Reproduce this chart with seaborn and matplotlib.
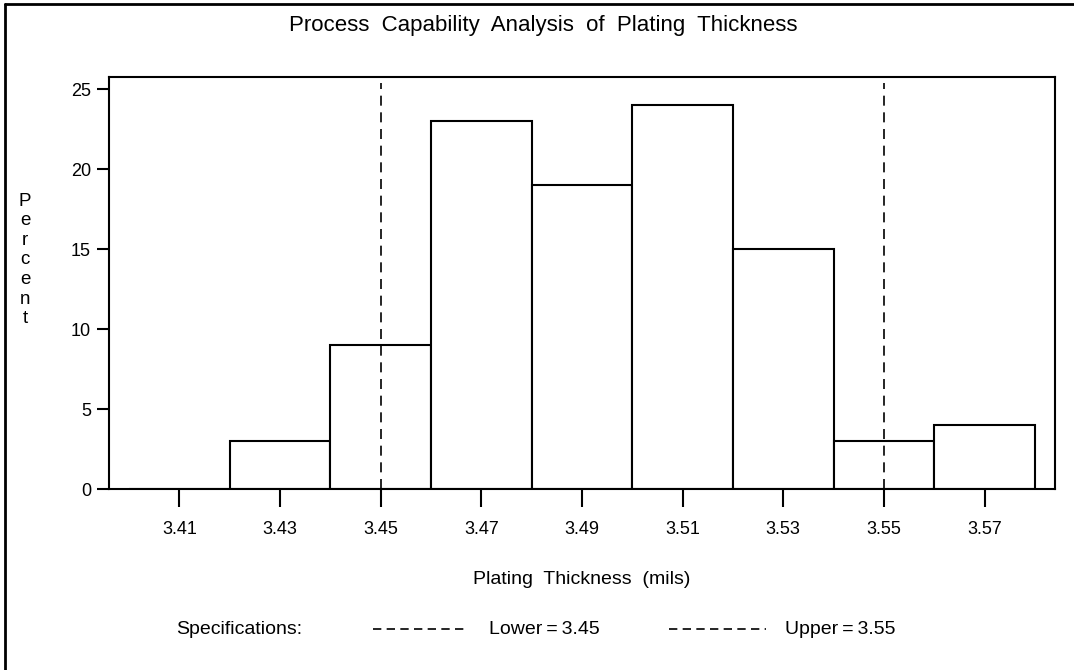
import numpy as np
import pandas as pd
import matplotlib
matplotlib.use("Agg")
import matplotlib.pyplot as plt
from matplotlib.lines import Line2D
import seaborn as sns

# ---- data ----
bin_centers = [3.41, 3.43, 3.45, 3.47, 3.49, 3.51, 3.53, 3.55, 3.57]
percents = [0, 3, 9, 23, 19, 24, 15, 3, 4]
bin_edges = [3.40, 3.42, 3.44, 3.46, 3.48, 3.50, 3.52, 3.54, 3.56, 3.58]
spec_lower = 3.45
spec_upper = 3.55
x_ticks = [3.41, 3.43, 3.45, 3.47, 3.49, 3.51, 3.53, 3.55, 3.57]
x_tick_labels = ["3.41", "3.43", "3.45", "3.47", "3.49", "3.51", "3.53", "3.55", "3.57"]
y_ticks = [0, 5, 10, 15, 20, 25]

sns.set_style("white")
plt.rcParams['font.family'] = ['Liberation Sans', 'DejaVu Sans']
plt.rcParams['text.color'] = 'black'

df = pd.DataFrame({"thickness": bin_centers, "pct": percents})

W, H = 1074, 670
fig = plt.figure(figsize=(W / 100, H / 100), dpi=100)
L, R, T, B = 109, 1055, 77, 489
ax = fig.add_axes([L / W, 1 - B / H, (R - L) / W, (B - T) / H])

sns.histplot(data=df, x="thickness", weights="pct", bins=bin_edges,
             stat="count", color="white", edgecolor="black", linewidth=1.5,
             alpha=1, ax=ax)

ax.set_xlim(3.396, 3.584)
ax.set_ylim(0, 25.75)
for s in [spec_lower, spec_upper]:
    ax.axvline(s, ymin=0, ymax=(25.75 - 0.4) / 25.75, color="black",
               lw=1.2, linestyle=(0, (6, 4)))

ax.set_xticks(x_ticks)
ax.set_xticklabels(x_tick_labels)
ax.set_yticks(y_ticks)
ax.tick_params(axis="x", direction="out", length=13, width=1.5, pad=10,
               labelsize=13, colors="black", bottom=True)
ax.tick_params(axis="y", direction="out", length=9, width=1.5, pad=4,
               labelsize=13, colors="black", left=True)
for sp in ax.spines.values():
    sp.set_visible(True)
    sp.set_color("black")
    sp.set_linewidth(1.5)
ax.set_xlabel("")
ax.set_ylabel("")

fs = 14
# x label
fig.text((L + R) / 2 / W, 1 - 580 / H, "Plating  Thickness  (mils)",
         ha="center", va="center", fontsize=fs)
# y label stacked letters
fig.text(25 / W, 1 - 260 / H, "\n".join("Percent"), ha="center", va="center",
         fontsize=13.5, linespacing=1.2)
# title
fig.text(543 / W, 1 - 25 / H, "Process  Capability  Analysis  of  Plating  Thickness",
         ha="center", va="center", fontsize=16)

# legend row
ly = 1 - 630 / H
fig.text(176 / W, ly, "Specifications:", ha="left", va="center", fontsize=fs)
fig.add_artist(Line2D([373 / W, 468 / W], [ly + 0.002, ly + 0.002], color="black",
                      lw=1.2, linestyle=(0, (5, 3.2))))
fig.text(489 / W, ly, "Lower\u2009=\u20093.45", ha="left", va="center", fontsize=fs)
fig.add_artist(Line2D([669 / W, 766 / W], [ly + 0.002, ly + 0.002], color="black",
                      lw=1.2, linestyle=(0, (5, 3.2))))
fig.text(785 / W, ly, "Upper\u2009=\u20093.55", ha="left", va="center", fontsize=fs)

# outer frame (left and top visible)
fig.add_artist(Line2D([5 / W, 5 / W], [0, 1 - 4 / H], color="black", lw=2))
fig.add_artist(Line2D([5 / W, 1], [1 - 4 / H, 1 - 4 / H], color="black", lw=2))

fig.savefig("out.png", dpi=100)
